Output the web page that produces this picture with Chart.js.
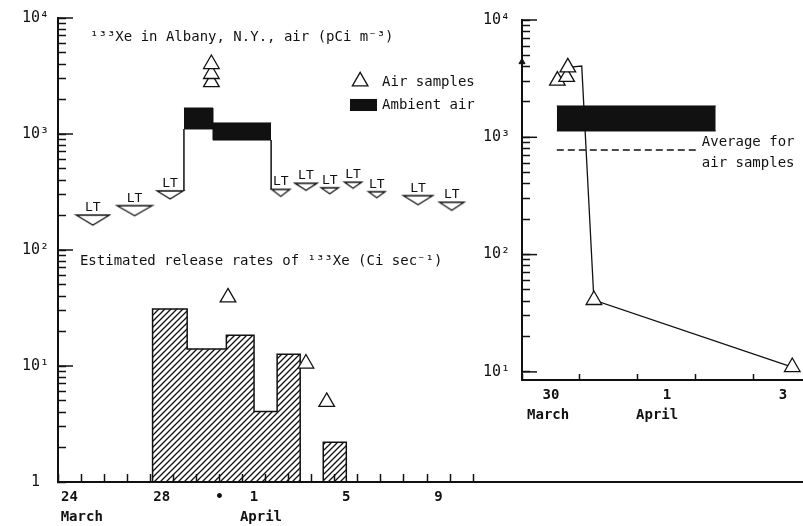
<!DOCTYPE html>
<html>
<head>
<meta charset="utf-8">
<script src="https://cdn.jsdelivr.net/npm/chart.js@4"></script>
<style>
  body { margin: 0; background: #fff; }
  #wrap { position: relative; width: 803px; height: 526px; }
  #main { position: absolute; left: 0; top: 0; }
  #inset { position: absolute; left: 470px; top: 0; }
</style>
</head>
<body>
<div id="wrap">
  <canvas id="main" width="803" height="526"></canvas>
  <canvas id="inset" width="333" height="430"></canvas>
</div>
<script>
const FONT = "'DejaVu Sans Mono', monospace";
const INK = '#111';
Chart.defaults.font.family = FONT;
Chart.defaults.color = INK;

// ---- main panel, days counted from 24 March 00:00 ----
// estimated release rate (Ci/sec), one block per interval
const releaseStart = [4.1, 5.6, 7.3, 8.5, 9.5, 11.5];
const releaseEnd = [5.6, 7.3, 8.5, 9.5, 10.5, 12.5];
const releaseRate = [31, 14, 18.4, 4.05, 12.6, 2.2];

// ambient air range (pCi/m3)
const ambientEdge = [5.46, 6.72, 9.24];
const ambientHigh = [1675, 1245];
const ambientLow = [1105, 887];

// air samples
const sampleDay = [6.65, 6.65, 6.65, 7.37, 10.75, 11.65];
const sampleValue = [2800, 3290, 4010, 39, 10.5, 4.9];

// "less than" samples: centre day, upper limit, sampling span (days)
const ltDay = [1.51, 3.32, 4.86, 9.66, 10.75, 11.78, 12.79, 13.82, 15.61, 17.07];
const ltValue = [200, 241, 323, 333, 376, 344, 384, 318, 294, 258];
const ltSpan = [1.43, 1.52, 1.13, 0.79, 0.94, 0.75, 0.75, 0.72, 1.27, 1.07];

const dayTickPos = [0.5, 4.5, 7, 8.5, 12.5, 16.5];
const dayTickText = ['24', '28', '\u2022', '1', '5', '9'];

// ---- inset, days counted from 30 March 00:00 ----
const insetDay = [0.79, 1.03, 1.24, 4.66];
const insetValue = [3950, 4050, 41, 11];
const insetMarked = [true, false, true, true];
const insetExtraDay = [0.61, 0.77];
const insetExtraValue = [3040, 3270];
const insetAmbientSpan = [0.6, 3.34];
const insetAmbientLow = 1132;
const insetAmbientHigh = 1850;
const insetAverageSpan = [0.6, 3.01];
const insetAverage = 780;
const insetFlagDay = [0];
const insetFlagValue = [4390];
const insetTickPos = [0.5, 2.5, 4.5];
const insetTickText = ['30', '1', '3'];

const SUP = ['\u2070', '\u00b9', '\u00b2', '\u00b3', '\u2074'];

function decadeLabel(v) {
  const e = Math.log10(v);
  const r = Math.round(e);
  if (Math.abs(e - r) > 1e-6) return '';
  return r === 0 ? '1 ' : '10' + SUP[r];
}

function logTicks(lo, hi) {
  const out = [];
  for (let e = lo; e < hi; e++) {
    for (let m = 1; m < 10; m++) out.push(m * Math.pow(10, e));
  }
  out.push(Math.pow(10, hi));
  return out;
}

function hatch(canvas) {
  const c = document.createElement('canvas');
  c.width = c.height = 6;
  const g = c.getContext('2d');
  g.strokeStyle = INK;
  g.lineWidth = 1.3;
  g.beginPath();
  g.moveTo(0, 6); g.lineTo(6, 0);
  g.moveTo(-1, 1); g.lineTo(1, -1);
  g.moveTo(5, 7); g.lineTo(7, 5);
  g.stroke();
  return canvas.getContext('2d').createPattern(c, 'repeat');
}

// downward triangle whose width is the sampling span, top edge on the value
function ltMarker(ctx) {
  const i = ctx.dataIndex;
  if (i === undefined) return 'triangle';
  const xs = ctx.chart.scales.x;
  const w = Math.abs(xs.getPixelForValue(ltSpan[i]) - xs.getPixelForValue(0));
  const h = Math.round(3 + 0.2 * w);
  const c = document.createElement('canvas');
  c.width = Math.ceil(w) + 4;
  c.height = 2 * h + 4;
  const g = c.getContext('2d');
  const x0 = (c.width - w) / 2, top = c.height / 2;
  g.beginPath();
  g.moveTo(x0, top);
  g.lineTo(x0 + w, top);
  g.lineTo(c.width / 2, top + h);
  g.closePath();
  g.fillStyle = '#fff';
  g.fill();
  g.strokeStyle = INK;
  g.lineWidth = 1.3;
  g.stroke();
  return c;
}

// longer marks at each decade on the log axis
const longTicks = {
  id: 'longTicks',
  afterDraw(chart) {
    const y = chart.scales.y, left = chart.chartArea.left, g = chart.ctx;
    g.save();
    g.strokeStyle = INK;
    g.lineWidth = 1.5;
    y.ticks.forEach(t => {
      if (decadeLabel(t.value) === '') return;
      const py = y.getPixelForValue(t.value);
      g.beginPath();
      g.moveTo(left, py);
      g.lineTo(left + 15, py);
      g.stroke();
    });
    g.restore();
  }
};

function notesPlugin(notes) {
  return {
    id: 'notes',
    afterDraw(chart) {
      const g = chart.ctx, x = chart.scales.x, y = chart.scales.y;
      g.save();
      g.fillStyle = INK;
      g.strokeStyle = INK;
      notes.forEach(n => {
        const px = x.getPixelForValue(n.x);
        const py = n.below != null ? chart.chartArea.bottom + n.below : y.getPixelForValue(n.y);
        if (n.shape === 'tri') {
          const r = 9;
          g.beginPath();
          g.moveTo(px, py - r);
          g.lineTo(px + r * 0.866, py + r / 2);
          g.lineTo(px - r * 0.866, py + r / 2);
          g.closePath();
          g.fillStyle = '#fff';
          g.fill();
          g.lineWidth = 1.3;
          g.stroke();
          g.fillStyle = INK;
        } else if (n.shape === 'rect') {
          const px2 = x.getPixelForValue(n.x2), py2 = y.getPixelForValue(n.y2);
          g.fillRect(px, py, px2 - px, py2 - py);
        } else {
          g.font = n.font || '14px ' + FONT;
          g.textAlign = n.align || 'left';
          g.textBaseline = 'middle';
          g.fillText(n.text, px, py);
        }
      });
      g.restore();
    }
  };
}

const ltLabels = {
  id: 'ltLabels',
  afterDatasetsDraw(chart) {
    const g = chart.ctx;
    g.save();
    g.font = '13px ' + FONT;
    g.fillStyle = INK;
    g.textAlign = 'center';
    g.textBaseline = 'alphabetic';
    chart.getDatasetMeta(1).data.forEach(pt => g.fillText('LT', pt.x, pt.y - 4));
    g.restore();
  }
};

function xAxis(min, max, tickPos, tickText, lastDay, tickLen, height) {
  const ticks = [];
  for (let d = 0; d <= lastDay; d++) ticks.push(d);
  tickPos.forEach(v => { if (!ticks.includes(v)) ticks.push(v); });
  ticks.sort((a, b) => a - b);
  return {
    type: 'linear', min, max,
    afterBuildTicks: s => { s.ticks = ticks.map(v => ({ value: v })); },
    afterFit: s => {
      s.height = height;
      s.paddingLeft = 0;
      s.paddingRight = 0;
    },
    border: { color: INK, width: 2 },
    grid: {
      drawOnChartArea: false, tickLength: -tickLen, tickWidth: 1.5,
      tickColor: c => (c.tick && Number.isInteger(c.tick.value)) ? INK : 'rgba(0,0,0,0)'
    },
    ticks: {
      autoSkip: false, maxRotation: 0, padding: 15 + tickLen - 8,
      font: { size: 14, weight: 'bold' },
      callback: v => { const k = tickPos.indexOf(v); return k < 0 ? '' : tickText[k]; }
    }
  };
}

function yAxis(min, loDecade, width, padding) {
  return {
    type: 'logarithmic', min, max: 1e4,
    afterBuildTicks: s => { s.ticks = logTicks(loDecade, 4).map(v => ({ value: v })); },
    afterFit: s => {
      s.width = width;
      s.paddingTop = 0;
      s.paddingBottom = 0;
    },
    border: { color: INK, width: 2 },
    grid: { drawOnChartArea: false, tickLength: -8, tickWidth: 1.5, tickColor: INK },
    ticks: { autoSkip: false, padding, font: { size: 15 }, callback: v => decadeLabel(v) }
  };
}

const pts = (xs, ys) => xs.map((x, i) => ({ x, y: ys[i] }));

// release blocks traced as one stepped outline sitting on the axis
const releasePoints = [];
releaseStart.forEach((s, i) => {
  if (i === 0 || s !== releaseEnd[i - 1]) releasePoints.push({ x: s, y: 1 });
  releasePoints.push({ x: s, y: releaseRate[i] });
  if (i === releaseStart.length - 1 || releaseStart[i + 1] !== releaseEnd[i]) {
    releasePoints.push({ x: releaseEnd[i], y: 1 });
  }
});

const ambientTop = ambientEdge.map((e, i) => ({ x: e, y: ambientHigh[Math.min(i, ambientHigh.length - 1)] }));
const ambientBottom = ambientEdge.map((e, i) => ({ x: e, y: ambientLow[Math.min(i, ambientLow.length - 1)] }));
const last = ambientEdge.length - 1;
const connectors = [
  { x: ambientEdge[0], y: ltValue[2] },
  { x: ambientEdge[0], y: ambientLow[0] },
  { x: ambientEdge[0], y: null },
  { x: ambientEdge[last], y: ambientLow[ambientLow.length - 1] },
  { x: ambientEdge[last], y: ltValue[3] }
];

const mainCanvas = document.getElementById('main');

new Chart(mainCanvas, {
  type: 'line',
  data: {
    datasets: [
      {
        label: 'Air samples', data: pts(sampleDay, sampleValue), showLine: false,
        pointStyle: 'triangle', pointRadius: 9, pointBackgroundColor: '#fff',
        pointBorderColor: INK, pointBorderWidth: 1.3
      },
      {
        label: 'LT', data: pts(ltDay, ltValue), showLine: false,
        pointRadius: 3, pointStyle: ltMarker
      },
      {
        label: 'connectors', data: connectors, borderColor: INK, borderWidth: 1.5,
        pointRadius: 0, spanGaps: false
      },
      {
        label: 'Ambient air', data: ambientTop, stepped: true, borderColor: INK,
        borderWidth: 1, pointRadius: 0, fill: false
      },
      {
        label: 'Ambient air low', data: ambientBottom, stepped: true, borderColor: INK,
        borderWidth: 1, pointRadius: 0, fill: '-1', backgroundColor: INK
      },
      {
        label: 'Release rate', data: releasePoints, stepped: true, borderColor: INK,
        borderWidth: 1.5, pointRadius: 0, fill: 'start', backgroundColor: hatch(mainCanvas)
      }
    ]
  },
  options: {
    responsive: false, animation: false, events: [],
    layout: { autoPadding: false, padding: { top: 18, left: 0, right: 0, bottom: 0 } },
    plugins: { legend: { display: false }, tooltip: { enabled: false } },
    scales: {
      x: xAxis(0, 32.3, dayTickPos, dayTickText, 18, 8, 44),
      y: yAxis(1, 0, 58, 17)
    }
  },
  plugins: [longTicks, ltLabels, notesPlugin([
    { text: '\u00b9\u00b3\u00b3Xe in Albany, N.Y., air (pCi m\u207b\u00b3)', x: 1.39, y: 6850 },
    { shape: 'tri', x: 13.1, y: 2840 },
    { text: 'Air samples', x: 14.05, y: 2770 },
    { shape: 'rect', x: 12.66, x2: 13.83, y: 2005, y2: 1578 },
    { text: 'Ambient air', x: 14.05, y: 1778 },
    { text: 'Estimated release rates of \u00b9\u00b3\u00b3Xe (Ci sec\u207b\u00b9)', x: 0.95, y: 79.5 },
    { text: 'March', x: 1.03, below: 35, align: 'center', font: 'bold 14px ' + FONT },
    { text: 'April', x: 8.8, below: 35, align: 'center', font: 'bold 14px ' + FONT }
  ])]
});

new Chart(document.getElementById('inset'), {
  type: 'line',
  data: {
    datasets: [
      {
        label: 'Air samples', data: pts(insetDay, insetValue), borderColor: INK, borderWidth: 1.3,
        pointStyle: 'triangle', pointRadius: insetMarked.map(m => m ? 9 : 0),
        pointBackgroundColor: '#fff', pointBorderColor: INK, pointBorderWidth: 1.3
      },
      {
        label: 'Air samples (other)', data: pts(insetExtraDay, insetExtraValue), showLine: false,
        pointStyle: 'triangle', pointRadius: 9, pointBackgroundColor: '#fff',
        pointBorderColor: INK, pointBorderWidth: 1.3
      },
      {
        label: 'flag', data: pts(insetFlagDay, insetFlagValue), showLine: false, clip: false,
        pointStyle: 'triangle', pointRadius: 3.5, pointBackgroundColor: INK, pointBorderColor: INK
      },
      {
        label: 'Average for air samples', data: pts(insetAverageSpan, [insetAverage, insetAverage]),
        borderColor: INK, borderWidth: 1.5, borderDash: [7, 4], pointRadius: 0
      },
      {
        label: 'Ambient air', data: pts(insetAmbientSpan, [insetAmbientHigh, insetAmbientHigh]),
        borderColor: INK, borderWidth: 1, pointRadius: 0, fill: false
      },
      {
        label: 'Ambient air low', data: pts(insetAmbientSpan, [insetAmbientLow, insetAmbientLow]),
        borderColor: INK, borderWidth: 1, pointRadius: 0, fill: '-1', backgroundColor: INK
      }
    ]
  },
  options: {
    responsive: false, animation: false, events: [],
    layout: { autoPadding: false, padding: { top: 20, left: 0, right: 0, bottom: 0 } },
    plugins: { legend: { display: false }, tooltip: { enabled: false } },
    scales: {
      x: xAxis(0, 4.845, insetTickPos, insetTickText, 4, 6, 50),
      y: yAxis(8.53, 1, 52, 20)
    }
  },
  plugins: [longTicks, notesPlugin([
    { text: 'Average for', x: 3.10, y: 912 },
    { text: 'air samples', x: 3.10, y: 604 },
    { text: 'March', x: 0.45, below: 35, align: 'center', font: 'bold 14px ' + FONT },
    { text: 'April', x: 2.33, below: 35, align: 'center', font: 'bold 14px ' + FONT }
  ])]
});
</script>
</body>
</html>
